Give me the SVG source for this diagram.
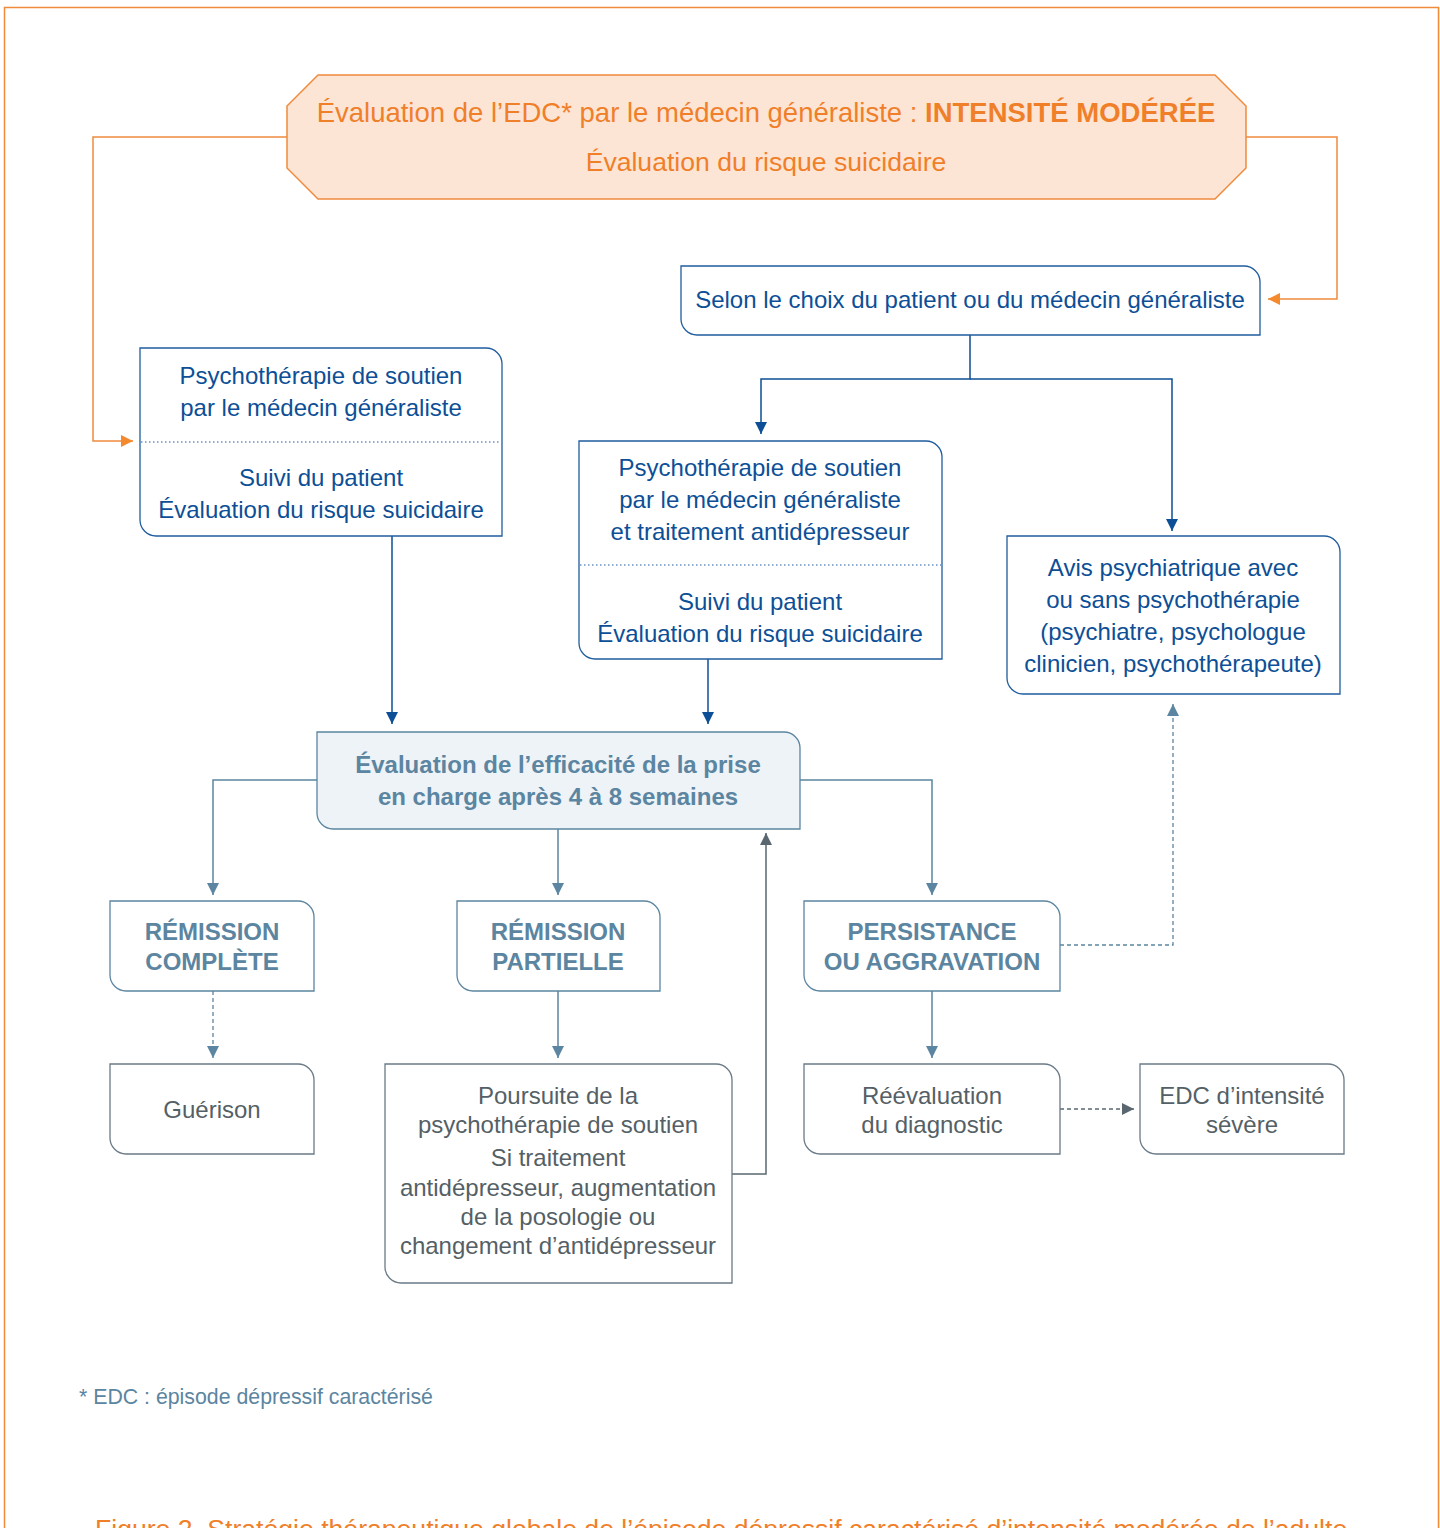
<svg xmlns="http://www.w3.org/2000/svg" width="1440" height="1528" viewBox="0 0 1440 1528">
<style>
text{font-family:"Liberation Sans",Arial,sans-serif;text-anchor:middle}
.blue{fill:#0d4f96;font-size:24px}
.bbox{fill:#fff;stroke:#1f5c9e;stroke-width:1.3}
.gbox{fill:#fff;stroke:#6a7a86;stroke-width:1.3}
.sbox{fill:#fff;stroke:#5b85a0;stroke-width:1.3}
.ebox{fill:#eef3f7;stroke:#5b85a0;stroke-width:1.3}
.steel{fill:#5b85a0;font-size:24px;font-weight:bold}
.grey{fill:#555f66;font-size:24px}
.div{stroke:#1f5c9e;stroke-width:1.2;stroke-dasharray:1.5 2.5}
.cb{fill:none;stroke:#0d4f96;stroke-width:1.5}
.co{fill:none;stroke:#f08a3c;stroke-width:1.5}
.cs{fill:none;stroke:#5b85a0;stroke-width:1.5}
.csd{fill:none;stroke:#5b85a0;stroke-width:1.3;stroke-dasharray:4 3}
.cg{fill:none;stroke:#5a6770;stroke-width:1.5}
.cgd{fill:none;stroke:#5a6770;stroke-width:1.3;stroke-dasharray:4 3}
</style>
<defs>
<marker id="ab" markerUnits="userSpaceOnUse" markerWidth="14" markerHeight="14" refX="12" refY="6" orient="auto"><path d="M0,0 L12,6 L0,12 Z" fill="#0d4f96"/></marker>
<marker id="ao" markerUnits="userSpaceOnUse" markerWidth="14" markerHeight="14" refX="12" refY="6" orient="auto"><path d="M0,0 L12,6 L0,12 Z" fill="#f5892e"/></marker>
<marker id="as" markerUnits="userSpaceOnUse" markerWidth="14" markerHeight="14" refX="12" refY="6" orient="auto"><path d="M0,0 L12,6 L0,12 Z" fill="#5b85a0"/></marker>
<marker id="ag" markerUnits="userSpaceOnUse" markerWidth="14" markerHeight="14" refX="12" refY="6" orient="auto"><path d="M0,0 L12,6 L0,12 Z" fill="#5a6770"/></marker>
</defs>
<rect width="1440" height="1528" fill="#fff"/>
<path d="M4.5,1528 V7.5 H1438.5 V1528" fill="none" stroke="#f08a3c" stroke-width="1.5"/>

<g id="connectors">
<path class="co" d="M287,137 H93 V441 H133" marker-end="url(#ao)"/>
<path class="co" d="M1246,137 H1337 V299 H1268" marker-end="url(#ao)"/>
<path class="cb" d="M970,335 V379 H761 V434" marker-end="url(#ab)"/>
<path class="cb" d="M970,379 H1172 V531" marker-end="url(#ab)"/>
<path class="cb" d="M392,536 V724" marker-end="url(#ab)"/>
<path class="cb" d="M708,659 V724" marker-end="url(#ab)"/>
<path class="cs" d="M317,780 H213 V895" marker-end="url(#as)"/>
<path class="cs" d="M558,829 V895" marker-end="url(#as)"/>
<path class="cs" d="M800,780 H932 V895" marker-end="url(#as)"/>
<path class="csd" d="M213,991 V1058" marker-end="url(#as)"/>
<path class="cs" d="M558,991 V1058" marker-end="url(#as)"/>
<path class="cs" d="M932,991 V1058" marker-end="url(#as)"/>
<path class="csd" d="M1060,945 H1173 V704" marker-end="url(#as)"/>
<path class="cgd" d="M1060,1109 H1134" marker-end="url(#ag)"/>
<path class="cg" d="M732,1174 H766 V833" marker-end="url(#ag)"/>
</g>

<g id="top">
<path d="M318,75 H1215 L1246,106 V168 L1215,199 H318 L287,168 V106 Z" fill="#fde5d6" stroke="#f08a3c" stroke-width="1.5"/>
<text x="766" y="122" font-size="27.5" fill="#f07f2a">Évaluation de l’EDC* par le médecin généraliste : <tspan font-weight="bold">INTENSITÉ MODÉRÉE</tspan></text>
<text x="766" y="171" font-size="26.6" fill="#f07f2a">Évaluation du risque suicidaire</text>
</g>

<g id="choix">
<path class="bbox" d="M681,266 H1244 A16,16 0 0 1 1260,282 V335 H697 A16,16 0 0 1 681,319 Z"/>
<text class="blue" x="970" y="308">Selon le choix du patient ou du médecin généraliste</text>
</g>

<g id="psy1">
<path class="bbox" d="M140,348 H486 A16,16 0 0 1 502,364 V536 H156 A16,16 0 0 1 140,520 Z"/>
<line class="div" x1="141" y1="442" x2="501" y2="442"/>
<text class="blue" x="321" y="384">Psychothérapie de soutien</text>
<text class="blue" x="321" y="416">par le médecin généraliste</text>
<text class="blue" x="321" y="486">Suivi du patient</text>
<text class="blue" x="321" y="518">Évaluation du risque suicidaire</text>
</g>

<g id="psy2">
<path class="bbox" d="M579,441 H926 A16,16 0 0 1 942,457 V659 H595 A16,16 0 0 1 579,643 Z"/>
<line class="div" x1="580" y1="565" x2="941" y2="565"/>
<text class="blue" x="760" y="476">Psychothérapie de soutien</text>
<text class="blue" x="760" y="508">par le médecin généraliste</text>
<text class="blue" x="760" y="540">et traitement antidépresseur</text>
<text class="blue" x="760" y="610">Suivi du patient</text>
<text class="blue" x="760" y="642">Évaluation du risque suicidaire</text>
</g>

<g id="avis">
<path class="bbox" d="M1007,536 H1324 A16,16 0 0 1 1340,552 V694 H1023 A16,16 0 0 1 1007,678 Z"/>
<text class="blue" x="1173" y="576">Avis psychiatrique avec</text>
<text class="blue" x="1173" y="608">ou sans psychothérapie</text>
<text class="blue" x="1173" y="640">(psychiatre, psychologue</text>
<text class="blue" x="1173" y="672">clinicien, psychothérapeute)</text>
</g>

<g id="eval">
<path class="ebox" d="M317,732 H784 A16,16 0 0 1 800,748 V829 H333 A16,16 0 0 1 317,813 Z"/>
<text class="steel" x="558" y="773">Évaluation de l’efficacité de la prise</text>
<text class="steel" x="558" y="805">en charge après 4 à 8 semaines</text>
</g>

<g id="rc">
<path class="sbox" d="M110,901 H298 A16,16 0 0 1 314,917 V991 H126 A16,16 0 0 1 110,975 Z"/>
<text class="steel" x="212" y="940">RÉMISSION</text>
<text class="steel" x="212" y="970">COMPLÈTE</text>
</g>

<g id="rp">
<path class="sbox" d="M457,901 H644 A16,16 0 0 1 660,917 V991 H473 A16,16 0 0 1 457,975 Z"/>
<text class="steel" x="558" y="940">RÉMISSION</text>
<text class="steel" x="558" y="970">PARTIELLE</text>
</g>

<g id="pa">
<path class="sbox" d="M804,901 H1044 A16,16 0 0 1 1060,917 V991 H820 A16,16 0 0 1 804,975 Z"/>
<text class="steel" x="932" y="940">PERSISTANCE</text>
<text class="steel" x="932" y="970">OU AGGRAVATION</text>
</g>

<g id="guerison">
<path class="gbox" d="M110,1064 H298 A16,16 0 0 1 314,1080 V1154 H126 A16,16 0 0 1 110,1138 Z"/>
<text class="grey" x="212" y="1118">Guérison</text>
</g>

<g id="poursuite">
<path class="gbox" d="M385,1064 H716 A16,16 0 0 1 732,1080 V1283 H401 A16,16 0 0 1 385,1267 Z"/>
<text class="grey" x="558" y="1104">Poursuite de la</text>
<text class="grey" x="558" y="1133">psychothérapie de soutien</text>
<text class="grey" x="558" y="1166">Si traitement</text>
<text class="grey" x="558" y="1196">antidépresseur, augmentation</text>
<text class="grey" x="558" y="1225">de la posologie ou</text>
<text class="grey" x="558" y="1254">changement d’antidépresseur</text>
</g>

<g id="reeval">
<path class="gbox" d="M804,1064 H1044 A16,16 0 0 1 1060,1080 V1154 H820 A16,16 0 0 1 804,1138 Z"/>
<text class="grey" x="932" y="1104">Réévaluation</text>
<text class="grey" x="932" y="1133">du diagnostic</text>
</g>

<g id="severe">
<path class="gbox" d="M1140,1064 H1328 A16,16 0 0 1 1344,1080 V1154 H1156 A16,16 0 0 1 1140,1138 Z"/>
<text class="grey" x="1242" y="1104">EDC d’intensité</text>
<text class="grey" x="1242" y="1133">sévère</text>
</g>

<text x="79" y="1404" font-size="21.3" fill="#5b85a0" style="text-anchor:start">* EDC : épisode dépressif caractérisé</text>
<text x="95" y="1538" font-size="26.6" fill="#f07f2a" style="text-anchor:start">Figure 2. Stratégie thérapeutique globale de l’épisode dépressif caractérisé d’intensité modérée de l’adulte</text>
</svg>
